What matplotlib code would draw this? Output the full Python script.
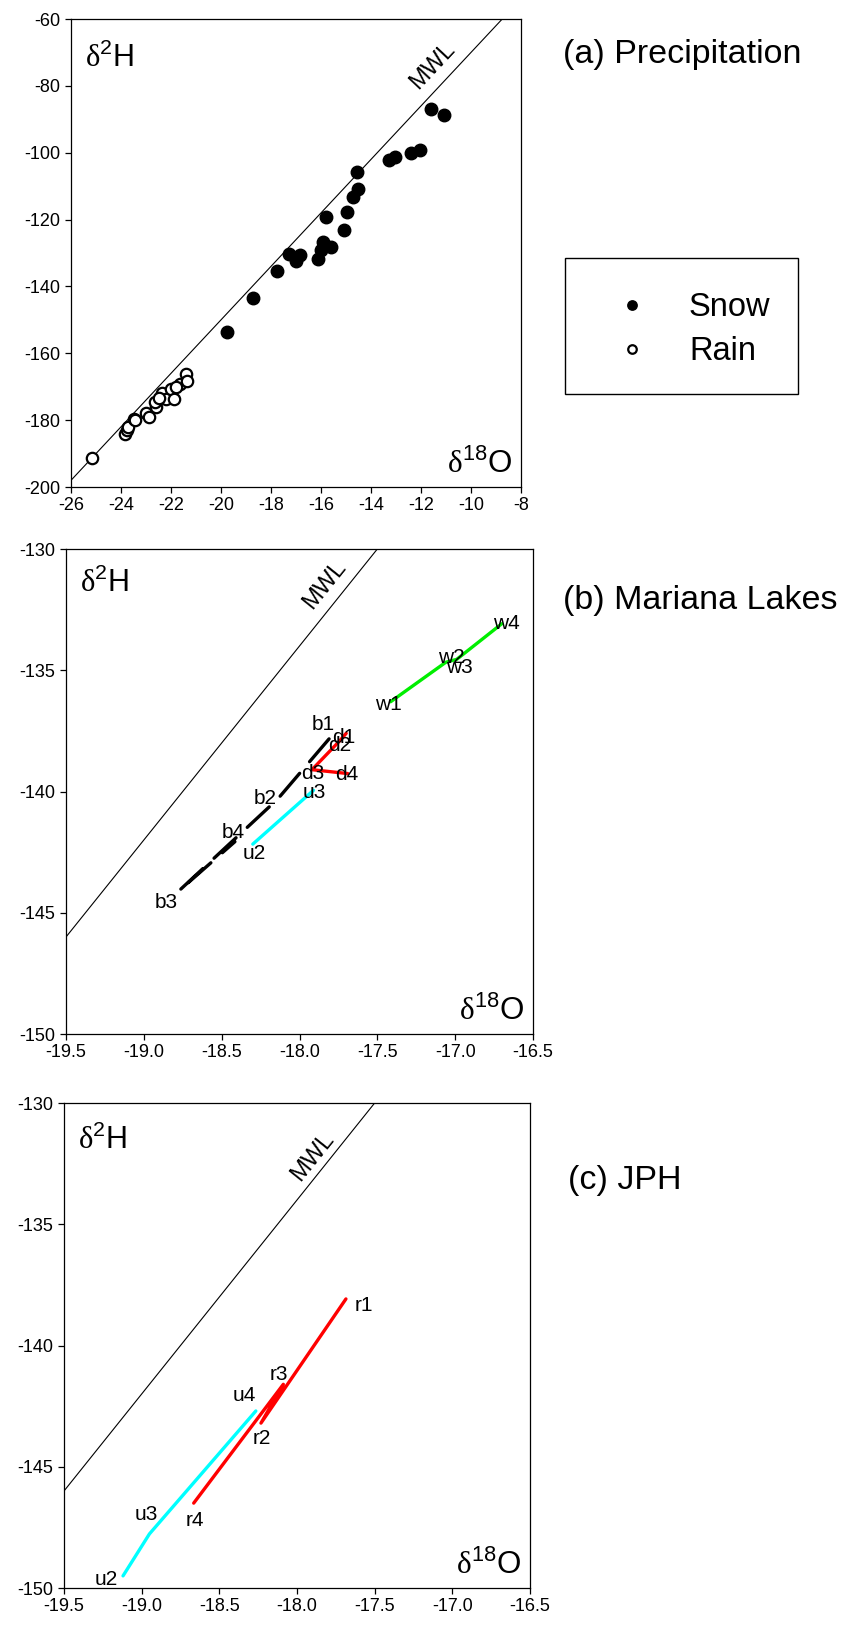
"""Isotope cross-plots: precipitation, Mariana Lakes, JPH."""

import matplotlib

matplotlib.use("Agg")
import matplotlib.pyplot as plt
import numpy as np
from matplotlib.patches import Rectangle

plt.rcParams["font.family"] = ["Liberation Sans", "DejaVu Sans"]
plt.rcParams["mathtext.fontset"] = "custom"
plt.rcParams["mathtext.rm"] = "Liberation Sans"
plt.rcParams["mathtext.sf"] = "Liberation Serif"
plt.rcParams["axes.unicode_minus"] = False

# meteoric water line  d2H = 8 * d18O + 10
MWL_SLOPE = 8.0
MWL_INTERCEPT = 10.0

# (a) precipitation
snow_o18 = [-11.6, -11.1, -12.4, -12.04, -13.27, -13.04, -14.55, -14.51, -14.73,
            -14.97, -15.07, -15.81, -15.91, -16.01, -15.61, -16.11, -17.28, -17.01,
            -16.85, -17.75, -18.72, -19.77]
snow_h2 = [-87.0, -88.6, -100.2, -99.1, -102.2, -101.2, -105.8, -111.0, -113.2,
           -117.7, -123.0, -119.2, -126.8, -129.0, -128.3, -131.7, -130.4, -132.5,
           -130.7, -135.4, -143.4, -153.5]
rain_o18 = [-25.15, -23.85, -23.75, -23.72, -23.5, -23.45, -23.0, -22.9, -22.6,
            -22.65, -22.35, -22.2, -22.0, -21.9, -21.65, -21.4, -21.35, -21.8, -22.5]
rain_h2 = [-191.4, -184.0, -183.0, -182.0, -179.6, -180.0, -178.0, -179.0, -176.2,
           -174.5, -171.8, -173.6, -170.8, -173.6, -169.3, -166.2, -168.3, -170.0, -173.5]

# (b) Mariana Lakes
ml_b_names = ["b1", "b2", "b3", "b4"]
ml_b_o18 = [-17.81, -18.14, -18.775, -18.415]
ml_b_h2 = [-137.83, -140.31, -144.1, -142.07]
ml_d_names = ["d1", "d2", "d3", "d4"]
ml_d_o18 = [-17.70, -17.74, -17.92, -17.69]
ml_d_h2 = [-137.6, -137.9, -139.1, -139.26]
ml_u_names = ["u2", "u3"]
ml_u_o18 = [-18.30, -17.91]
ml_u_h2 = [-142.17, -139.95]
ml_w_names = ["w1", "w2", "w3", "w4"]
ml_w_o18 = [-17.415, -17.06, -16.99, -16.70]
ml_w_h2 = [-136.3, -134.67, -134.55, -133.08]

# (c) JPH
jph_r_names = ["r1", "r2", "r3", "r4"]
jph_r_o18 = [-17.685, -18.232, -18.088, -18.665]
jph_r_h2 = [-138.08, -143.2, -141.6, -146.5]
jph_u_names = ["u2", "u3", "u4"]
jph_u_o18 = [-19.12, -18.95, -18.265]
jph_u_h2 = [-149.5, -147.77, -142.7]

# label offsets in pixels (dx, dy up), one per point
ml_b_off = [(-6, 14), (-13, 1), (-13, -12), (-2, 9)]
ml_d_off = [(-2, -4), (0, -5), (1, -4), (-1, -1)]
ml_u_off = [(1, -9), (1, -2)]
ml_w_off = [(-2, -3), (6, 5), (3, -8), (5, 0)]
jph_r_off = [(18, -7), (1, -15), (-4, 10), (1, -17)]
jph_u_off = [(-17, -4), (-3, 19), (-12, 15)]

W, H = 844, 1626
DPI = 100
PX = 72.0 / DPI  # points per pixel

GREEN = "#00ee00"
CYAN = "#00ffff"
RED = "#ff0000"


def px_box(left, top, right, bottom):
    return [left / W, 1 - bottom / H, (right - left) / W, (bottom - top) / H]


def style_axes(ax):
    for s in ax.spines.values():
        s.set_linewidth(0.9)
    ax.tick_params(direction="out", length=4.5, width=0.9, labelsize=13,
                   top=False, right=False, pad=3)


def draw_mwl(ax, label_y, offset_px):
    x0, x1 = ax.get_xlim()
    xs = np.array([x0, x1])
    ax.plot(xs, MWL_SLOPE * xs + MWL_INTERCEPT, color="black", lw=0.8, zorder=1)
    p0 = ax.transData.transform((0.0, MWL_INTERCEPT))
    p1 = ax.transData.transform((1.0, MWL_SLOPE + MWL_INTERCEPT))
    ang = np.degrees(np.arctan2(p1[1] - p0[1], p1[0] - p0[0]))
    lx = (label_y - MWL_INTERCEPT) / MWL_SLOPE
    ax.annotate("MWL", xy=(lx, label_y), xytext=(-offset_px * PX, 0),
                textcoords="offset points", rotation=ang, rotation_mode="anchor",
                ha="center", va="center", fontsize=17)


def delta_labels(ax, top_px=46):
    bw = ax.get_position().width * W
    bh = ax.get_position().height * H
    ax.text(14 / bw, 1 - top_px / bh, r"$\mathsf{δ}^{\mathrm{2}}\mathrm{H}$",
            transform=ax.transAxes, fontsize=22, ha="left", va="baseline")
    ax.text(1 - 9 / bw, 14 / bh, r"$\mathsf{δ}^{\mathrm{18}}\mathrm{O}$",
            transform=ax.transAxes, fontsize=22.5, ha="right", va="baseline")


def transect(ax, xs, ys, names, offs, color, dashed=False):
    line, = ax.plot(xs, ys, color=color, lw=2.4, solid_capstyle="round",
                    dash_capstyle="round", zorder=3)
    if dashed:
        line.set_dashes([9.0, 4.6])
    for x, y, n, (dx, dy) in zip(xs, ys, names, offs):
        ax.annotate(n, xy=(x, y), xytext=(dx * PX, dy * PX), textcoords="offset points",
                    ha="center", va="center", fontsize=15, zorder=4)


fig = plt.figure(figsize=(W / DPI, H / DPI), dpi=DPI)

# ---- (a) precipitation ----
ax1 = fig.add_axes(px_box(71, 19, 521, 487))
ax1.set_xlim(-26, -8)
ax1.set_ylim(-200, -60)
ax1.set_xticks(np.arange(-26, -7, 2))
ax1.set_yticks(np.arange(-200, -59, 20))
style_axes(ax1)
draw_mwl(ax1, -74.0, 26)
snow, = ax1.plot(snow_o18, snow_h2, ls="none", marker="o", ms=9.0, mfc="black",
                 mec="black", mew=1.0, zorder=4, label="Snow")
rain, = ax1.plot(rain_o18, rain_h2, ls="none", marker="o", ms=8.2, mfc="white",
                 mec="black", mew=1.6, zorder=4, label="Rain")
delta_labels(ax1, 48)
fig.text(563 / W, 1 - 55 / H, "(a) Precipitation", fontsize=24.5, va="center", ha="left")

# legend box drawn separately so the rows can sit where they do in the original
fig.patches.append(Rectangle((565 / W, 1 - 394 / H), 233 / W, 136 / H,
                             transform=fig.transFigure, fill=False,
                             edgecolor="black", linewidth=1.0))
fig.legend(handles=[snow, rain], loc="upper left",
           bbox_to_anchor=(596 / W, 1 - 292 / H), bbox_transform=fig.transFigure,
           borderaxespad=0, borderpad=0, frameon=False,
           fontsize=23.5, handlelength=2.22, handletextpad=0.63,
           labelspacing=0.4, markerscale=0.75)

# ---- (b) Mariana Lakes ----
ax2 = fig.add_axes(px_box(66, 549, 533, 1034))
ax2.set_xlim(-19.5, -16.5)
ax2.set_ylim(-150, -130)
ax2.set_xticks(np.arange(-19.5, -16.4, 0.5))
ax2.set_yticks(np.arange(-150, -129, 5))
ax2.xaxis.set_major_formatter(matplotlib.ticker.FormatStrFormatter("%.1f"))
style_axes(ax2)
draw_mwl(ax2, -131.47, 24)
transect(ax2, ml_w_o18, ml_w_h2, ml_w_names, ml_w_off, GREEN)
transect(ax2, ml_u_o18, ml_u_h2, ml_u_names, ml_u_off, CYAN)
transect(ax2, ml_d_o18, ml_d_h2, ml_d_names, ml_d_off, RED)
transect(ax2, ml_b_o18, ml_b_h2, ml_b_names, ml_b_off, "black", dashed=True)
delta_labels(ax2, 43)
fig.text(563 / W, 1 - 601 / H, "(b) Mariana Lakes", fontsize=24.5, va="center", ha="left")

# ---- (c) JPH ----
ax3 = fig.add_axes(px_box(64, 1103, 530, 1588))
ax3.set_xlim(-19.5, -16.5)
ax3.set_ylim(-150, -130)
ax3.set_xticks(np.arange(-19.5, -16.4, 0.5))
ax3.set_yticks(np.arange(-150, -129, 5))
ax3.xaxis.set_major_formatter(matplotlib.ticker.FormatStrFormatter("%.1f"))
style_axes(ax3)
draw_mwl(ax3, -132.2, 19)
transect(ax3, jph_u_o18, jph_u_h2, jph_u_names, jph_u_off, CYAN)
transect(ax3, jph_r_o18, jph_r_h2, jph_r_names, jph_r_off, RED)
delta_labels(ax3, 46)
fig.text(568 / W, 1 - 1180 / H, "(c) JPH", fontsize=24.5, va="center", ha="left")

fig.savefig("out.png", dpi=DPI)
